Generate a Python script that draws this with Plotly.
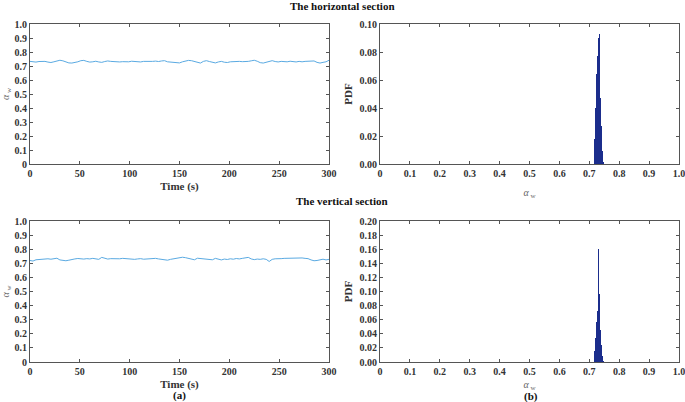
import plotly.graph_objects as go

# ---------------- data ----------------
time_s = list(range(0, 301, 3))

alpha_horizontal = [
    .733, .730, .728, .732, .735, .733, .728, .725, .730, .738,
    .741, .737, .728, .722, .721, .724, .730, .738, .740, .733,
    .728, .730, .734, .729, .726, .732, .736, .733, .730, .728,
    .729, .731, .728, .730, .734, .731, .727, .729, .733, .732,
    .730, .733, .735, .732, .736, .738, .730, .727, .728, .724,
    .722, .730, .737, .740, .738, .732, .725, .721, .733, .738,
    .732, .727, .722, .729, .733, .727, .725, .730, .732, .729,
    .733, .731, .730, .733, .737, .741, .734, .724, .721, .728,
    .733, .738, .732, .729, .733, .731, .730, .734, .731, .729,
    .733, .730, .733, .735, .737, .736, .726, .721, .726, .730,
    .741,
]

alpha_vertical = [
    .720, .716, .725, .728, .726, .730, .732, .729, .735, .736,
    .724, .720, .718, .722, .724, .731, .734, .731, .730, .733,
    .731, .735, .730, .728, .742, .735, .730, .733, .731, .729,
    .732, .735, .733, .730, .733, .728, .731, .733, .729, .731,
    .733, .737, .735, .731, .727, .725, .722, .728, .732, .738,
    .742, .743, .740, .734, .728, .725, .736, .734, .730, .726,
    .723, .725, .735, .728, .724, .730, .727, .732, .729, .734,
    .731, .735, .738, .742, .731, .726, .730, .728, .732, .728,
    .713, .728, .732, .730, .733, .735, .736, .734, .736, .735,
    .736, .738, .735, .733, .724, .718, .720, .726, .729, .724,
    .728,
]

bin_centers = [round(0.717 + 0.001 * i, 3) for i in range(30)]

pdf_horizontal = [
    0.004, 0.010, 0.018, 0.026, 0.033, 0.040, 0.047, 0.053, 0.058, 0.064,
    0.070, 0.077, 0.076, 0.080, 0.085, 0.090, 0.093, 0.080, 0.062, 0.047,
    0.046, 0.035, 0.027, 0.020, 0.014, 0.009, 0.006, 0.003, 0.002, 0.001,
]

pdf_vertical = [
    0.004, 0.010, 0.016, 0.022, 0.028, 0.034, 0.040, 0.046, 0.052, 0.057,
    0.062, 0.072, 0.062, 0.160, 0.060, 0.058, 0.055, 0.050, 0.096, 0.045,
    0.038, 0.030, 0.024, 0.018, 0.013, 0.009, 0.006, 0.004, 0.002, 0.001,
]

alpha_ticks = [0, 0.1, 0.2, 0.3, 0.4, 0.5, 0.6, 0.7, 0.8, 0.9, 1.0]
alpha_ticktext = ["0", "0.1", "0.2", "0.3", "0.4", "0.5", "0.6", "0.7", "0.8", "0.9", "1.0"]
time_ticks = [0, 50, 100, 150, 200, 250, 300]
pdf_ticks_h = [0, 0.02, 0.04, 0.06, 0.08, 0.10]
pdf_ticks_v = [0, 0.02, 0.04, 0.06, 0.08, 0.10, 0.12, 0.14, 0.16, 0.18, 0.20]

# ---------------- figure ----------------
W, H = 685, 402
FONT = "Liberation Serif"
LINE_C = "#5aaae2"
BAR_C = "#1b2d8c"
AX_C = "#555555"
TXT_C = "#333333"

def px_x(p):
    return p / W

def px_y(p):
    return 1 - p / H

fig = go.Figure()

fig.add_trace(go.Scatter(x=time_s, y=alpha_horizontal, mode="lines",
                         line=dict(color=LINE_C, width=1), xaxis="x", yaxis="y"))
fig.add_trace(go.Bar(x=bin_centers, y=pdf_horizontal, width=0.001,
                     marker=dict(color=BAR_C, line=dict(width=0)), xaxis="x2", yaxis="y2"))
fig.add_trace(go.Scatter(x=time_s, y=alpha_vertical, mode="lines",
                         line=dict(color=LINE_C, width=1), xaxis="x3", yaxis="y3"))
fig.add_trace(go.Bar(x=bin_centers, y=pdf_vertical, width=0.001,
                     marker=dict(color=BAR_C, line=dict(width=0)), xaxis="x4", yaxis="y4"))

tickfont = dict(family=FONT, size=10, color=TXT_C, weight="bold")
common = dict(showline=True, linecolor=AX_C, linewidth=1, mirror="ticks",
              ticks="inside", ticklen=3, tickcolor=AX_C, tickfont=tickfont,
              showgrid=False, zeroline=False, fixedrange=True, automargin=False,
              ticklabeloverflow="allow")

dom_left = [px_x(30), px_x(329)]
dom_right = [px_x(380), px_x(679)]
dom_top = [px_y(164), px_y(24)]
dom_bot = [px_y(362), px_y(221)]

bold_title = dict(family=FONT, size=11, color=TXT_C, weight="bold")
alpha_title = dict(text="<i>α</i><sub> w</sub>", font=dict(family=FONT, size=10, color="#666666"))

fig.update_layout(
    width=W, height=H, margin=dict(l=0, r=0, t=0, b=0),
    paper_bgcolor="white", plot_bgcolor="white", showlegend=False, bargap=0,
    xaxis=dict(domain=dom_left, anchor="y", range=[0, 300], tickvals=time_ticks,
               title=dict(text="Time (s)", font=bold_title, standoff=4), **common),
    yaxis=dict(domain=dom_top, anchor="x", range=[0, 1], tickvals=alpha_ticks,
               ticktext=alpha_ticktext,
               title=dict(alpha_title, standoff=6), **common),
    xaxis2=dict(domain=dom_right, anchor="y2", range=[0, 1], tickvals=alpha_ticks,
                ticktext=alpha_ticktext,
                title=dict(alpha_title, standoff=10), **common),
    yaxis2=dict(domain=dom_top, anchor="x2", range=[0, 0.10], tickvals=pdf_ticks_h,
                ticktext=[f"{t:.2f}" for t in pdf_ticks_h],
                title=dict(text="PDF", font=bold_title, standoff=4), **common),
    xaxis3=dict(domain=dom_left, anchor="y3", range=[0, 300], tickvals=time_ticks,
                title=dict(text="Time (s)", font=bold_title, standoff=4), **common),
    yaxis3=dict(domain=dom_bot, anchor="x3", range=[0, 1], tickvals=alpha_ticks,
                ticktext=alpha_ticktext,
                title=dict(alpha_title, standoff=6), **common),
    xaxis4=dict(domain=dom_right, anchor="y4", range=[0, 1], tickvals=alpha_ticks,
                ticktext=alpha_ticktext,
                title=dict(alpha_title, standoff=4), **common),
    yaxis4=dict(domain=dom_bot, anchor="x4", range=[0, 0.20], tickvals=pdf_ticks_v,
                ticktext=[f"{t:.2f}" for t in pdf_ticks_v],
                title=dict(text="PDF", font=bold_title, standoff=4), **common),
)

for fig_label, xp, yp in [("The horizontal section", 342, 6),
                          ("The vertical section", 342, 201),
                          ("(a)", 179, 395),
                          ("(b)", 531, 396)]:
    fig.add_annotation(text=f"<b>{fig_label}</b>", x=px_x(xp), y=px_y(yp),
                       xref="paper", yref="paper", showarrow=False,
                       xanchor="center", yanchor="middle",
                       font=dict(family=FONT, size=11, color="#111111"))

fig.write_html("out.html", config={"displayModeBar": False},
               post_script="document.body.style.margin='0';document.body.style.overflow='hidden';")
